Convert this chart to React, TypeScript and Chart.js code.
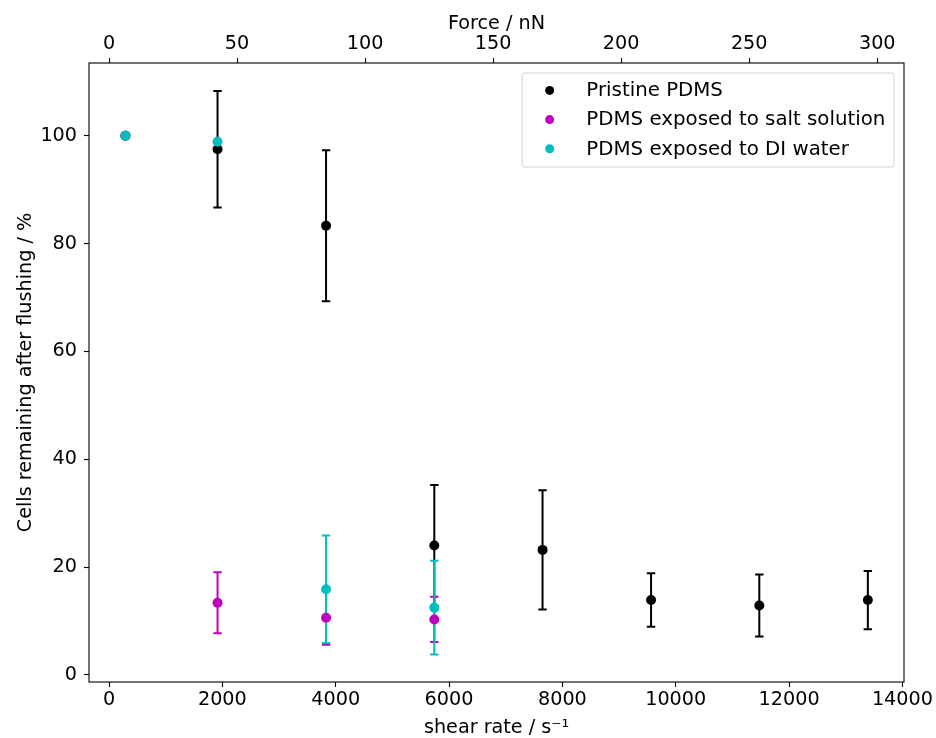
import React, { useEffect, useRef } from "react";
import { Chart, registerables } from "chart.js";

Chart.register(...registerables);

// ---- data ----
const SHEAR_RATE = [290, 1915, 3830, 5740, 7650, 9565, 11475, 13390];
const PRISTINE = [100, 97.5, 83.3, 24.0, 23.2, 13.9, 12.9, 13.9];
const PRISTINE_ERR = [0, 10.8, 14.0, 11.25, 11.05, 4.95, 5.75, 5.4];
const SALT = [100, 13.4, 10.6, 10.3];
const SALT_ERR = [0, 5.65, 5.0, 4.2];
const DI = [100, 98.9, 15.9, 12.5];
const DI_ERR = [0, 0, 9.95, 8.7];

const SERIES_LABELS = [
  "Pristine PDMS",
  "PDMS exposed to salt solution",
  "PDMS exposed to DI water",
];
const SERIES_COLORS = ["#000000", "#bf00bf", "#00bfbf"];

// tick labels
const SHEAR_TICKS = [0, 2000, 4000, 6000, 8000, 10000, 12000, 14000];
const FORCE_TICKS = [0, 50, 100, 150, 200, 250, 300];
const Y_TICKS = [0, 20, 40, 60, 80, 100];

const SHEAR_MIN = -353;
const SHEAR_MAX = 14028;
const Y_MIN = -1.3;
const Y_MAX = 113.5;
const NN_PER_SHEAR = 0.02213; // top axis (force, nN) per unit of shear rate

const FONT = "DejaVu Sans";
const FS = 19.2;
const LEGEND_FS = 19.8;

const errorBarPlugin = {
  id: "errorBars",
  beforeDatasetsDraw(chart: any) {
    const { ctx } = chart;
    const xs = chart.scales.x;
    const ys = chart.scales.y;
    ctx.save();
    ctx.lineWidth = 2;
    chart.data.datasets.forEach((ds: any) => {
      ctx.strokeStyle = ds.backgroundColor;
      ds.data.forEach((p: any, i: number) => {
        const e = ds.errors[i];
        if (!e) return;
        const px = xs.getPixelForValue(p.x);
        const t = ys.getPixelForValue(p.y + e);
        const b = ys.getPixelForValue(p.y - e);
        ctx.beginPath();
        ctx.moveTo(px, t);
        ctx.lineTo(px, b);
        ctx.moveTo(px - 4.2, t);
        ctx.lineTo(px + 4.2, t);
        ctx.moveTo(px - 4.2, b);
        ctx.lineTo(px + 4.2, b);
        ctx.stroke();
      });
    });
    ctx.restore();
  },
};

const framePlugin = {
  id: "frameAndLegend",
  afterDraw(chart: any) {
    const { ctx, chartArea: a } = chart;
    ctx.save();
    ctx.strokeStyle = "#000";
    ctx.lineWidth = 1.1;
    ctx.strokeRect(a.left, a.top, a.right - a.left, a.bottom - a.top);

    // legend
    ctx.font = `${LEGEND_FS}px "${FONT}"`;
    const dss = chart.data.datasets;
    let maxW = 0;
    dss.forEach((d: any) => {
      maxW = Math.max(maxW, ctx.measureText(d.label).width);
    });
    const boxRight = a.right - 10;
    const textX = boxRight - 8.6 - maxW;
    const markX = textX - 36.7;
    const boxLeft = markX - 27.6;
    const boxTop = a.top + 10;
    const boxH = 94;
    const r = 3;
    ctx.beginPath();
    ctx.moveTo(boxLeft + r, boxTop);
    ctx.lineTo(boxRight - r, boxTop);
    ctx.quadraticCurveTo(boxRight, boxTop, boxRight, boxTop + r);
    ctx.lineTo(boxRight, boxTop + boxH - r);
    ctx.quadraticCurveTo(boxRight, boxTop + boxH, boxRight - r, boxTop + boxH);
    ctx.lineTo(boxLeft + r, boxTop + boxH);
    ctx.quadraticCurveTo(boxLeft, boxTop + boxH, boxLeft, boxTop + boxH - r);
    ctx.lineTo(boxLeft, boxTop + r);
    ctx.quadraticCurveTo(boxLeft, boxTop, boxLeft + r, boxTop);
    ctx.closePath();
    ctx.fillStyle = "rgba(255,255,255,0.8)";
    ctx.fill();
    ctx.strokeStyle = "#d6d6d6";
    ctx.lineWidth = 1;
    ctx.stroke();

    ctx.textAlign = "left";
    ctx.textBaseline = "alphabetic";
    dss.forEach((d: any, i: number) => {
      const base = boxTop + 23.2 + i * 29.2;
      ctx.fillStyle = d.backgroundColor;
      ctx.beginPath();
      ctx.arc(markX, base - 5.8, 4.5, 0, Math.PI * 2);
      ctx.fill();
      ctx.fillStyle = "#000";
      ctx.fillText(d.label, textX, base);
    });
    ctx.restore();
  },
};

function pts(ys: number[]) {
  return ys.map((y, i) => ({ x: SHEAR_RATE[i], y }));
}

function fixedTicks(list: number[]) {
  return (s: any) => {
    s.ticks = list.map((v) => ({ value: v }));
  };
}

export default function App() {
  const ref = useRef<HTMLCanvasElement | null>(null);
  useEffect(() => {
    if (!ref.current) return;
    const tickFont = { family: FONT, size: FS };
    const titleFont = { family: FONT, size: FS };
    const values = [PRISTINE, SALT, DI];
    const errs = [PRISTINE_ERR, SALT_ERR, DI_ERR];
    const plain = (v: any) => String(v);
    const gridOpts = {
      drawOnChartArea: false,
      tickLength: 5,
      tickColor: "#000",
      tickWidth: 1.1,
    };
    const chart = new Chart(ref.current, {
      type: "scatter",
      data: {
        datasets: values.map((v, i) => ({
          label: SERIES_LABELS[i],
          data: pts(v),
          errors: errs[i],
          backgroundColor: SERIES_COLORS[i],
          borderColor: SERIES_COLORS[i],
          borderWidth: 0,
          pointRadius: 5,
          pointHoverRadius: 5,
          order: 3 - i,
        })) as any,
      },
      options: {
        responsive: false,
        animation: false,
        devicePixelRatio: 1,
        layout: { padding: { left: 0, right: 32, top: 0, bottom: 0 } },
        plugins: {
          legend: { display: false },
          tooltip: { enabled: false },
        },
        scales: {
          x: {
            type: "linear",
            position: "bottom",
            min: SHEAR_MIN,
            max: SHEAR_MAX,
            afterFit: (s: any) => {
              s.height = 56;
            },
            afterBuildTicks: fixedTicks(SHEAR_TICKS),
            ticks: {
              font: tickFont,
              color: "#000",
              padding: 1.6,
              maxRotation: 0,
              autoSkip: false,
              callback: plain,
            },
            grid: gridOpts,
            border: { display: false },
            title: {
              display: true,
              text: "shear rate / s⁻¹",
              font: titleFont,
              color: "#000",
              padding: { top: 0, bottom: -1.8 },
            },
          },
          x2: {
            type: "linear",
            position: "top",
            min: SHEAR_MIN * NN_PER_SHEAR,
            max: SHEAR_MAX * NN_PER_SHEAR,
            afterFit: (s: any) => {
              s.height = 63;
            },
            afterBuildTicks: fixedTicks(FORCE_TICKS),
            ticks: {
              font: tickFont,
              color: "#000",
              padding: 2.5,
              maxRotation: 0,
              autoSkip: false,
              callback: plain,
            },
            grid: gridOpts,
            border: { display: false },
            title: {
              display: true,
              text: "Force / nN",
              font: titleFont,
              color: "#000",
              padding: { top: 12, bottom: 0 },
            },
          },
          y: {
            type: "linear",
            position: "left",
            min: Y_MIN,
            max: Y_MAX,
            afterFit: (s: any) => {
              s.width = 89;
            },
            afterBuildTicks: fixedTicks(Y_TICKS),
            ticks: {
              font: tickFont,
              color: "#000",
              padding: 7,
              autoSkip: false,
              callback: plain,
            },
            grid: gridOpts,
            border: { display: false },
            title: {
              display: true,
              text: "Cells remaining after flushing / %",
              font: titleFont,
              color: "#000",
              padding: { top: 14, bottom: 0 },
            },
          },
        },
      } as any,
      plugins: [errorBarPlugin, framePlugin],
    });
    return () => chart.destroy();
  }, []);

  return (
    <div
      style={{
        position: "fixed",
        left: 0,
        top: 0,
        width: 936,
        height: 738,
        background: "#fff",
      }}
    >
      <canvas ref={ref} width={936} height={738} />
    </div>
  );
}
